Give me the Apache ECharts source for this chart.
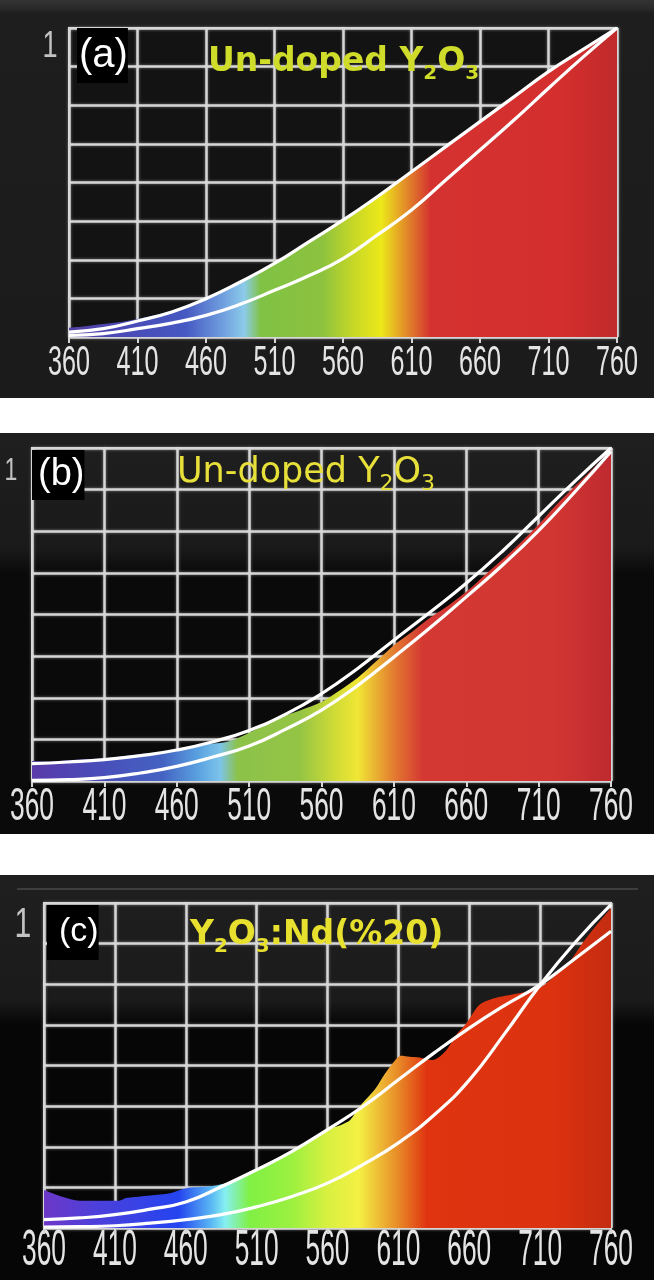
<!DOCTYPE html>
<html><head><meta charset="utf-8">
<script src="https://cdn.jsdelivr.net/npm/echarts@6/dist/echarts.min.js"></script>
<style>
html,body{margin:0;padding:0;background:#fff;width:654px;height:1280px;overflow:hidden}
.p{position:absolute;left:0;width:654px}
#pa{top:0;height:398px;background:linear-gradient(#343434 0,#2a2a2a 8px,#1e1e1e 14px,#1b1b1b 100%)}
#pb{top:433px;height:401px;background:linear-gradient(#1f1f1f 0,#1a1a1a 115px,#0a0a0a 140px,#0a0a0a 100%)}
#pc{top:875px;height:405px;background:linear-gradient(#1f1f1f 0,#1b1b1b 125px,#060606 150px,#060606 100%)}
#lc{position:absolute;top:888px;left:17px;width:621px;height:2px;background:#3e3e3e;z-index:5}
</style></head><body>
<div id="pa" class="p"></div>
<div id="pb" class="p"></div>
<div id="pc" class="p"></div>
<div id="lc"></div>
<script>
// ---------------- data ----------------
const xTicks = [360, 410, 460, 510, 560, 610, 660, 710, 760];
const yTopLabel = [1];
const curveWl = [360, 385, 410, 435, 460, 485, 510, 535, 560, 585, 610, 635, 660, 685, 710, 735, 760];

// panel (a)
const aUpper = [0.016, 0.027, 0.052, 0.081, 0.124, 0.178, 0.238, 0.308, 0.378, 0.454, 0.535, 0.616, 0.697, 0.778, 0.859, 0.93, 1.0];
const aLower = [0.005, 0.011, 0.027, 0.045, 0.07, 0.106, 0.151, 0.198, 0.254, 0.33, 0.411, 0.508, 0.605, 0.703, 0.805, 0.905, 1.0];
const aFillWl = [360, 370, 385, 400, 410, 435, 460, 485, 510, 535, 560, 585, 610, 635, 660, 685, 710, 735, 760];
const aFill = [0.03, 0.034, 0.042, 0.05, 0.058, 0.085, 0.126, 0.178, 0.238, 0.308, 0.378, 0.454, 0.535, 0.616, 0.697, 0.778, 0.859, 0.93, 1.0];

// panel (b)
const bUpper = [0.052, 0.057, 0.064, 0.076, 0.093, 0.118, 0.152, 0.2, 0.262, 0.338, 0.423, 0.507, 0.594, 0.69, 0.795, 0.9, 1.0];
const bLower = [0.002, 0.004, 0.01, 0.024, 0.044, 0.072, 0.105, 0.155, 0.213, 0.287, 0.372, 0.46, 0.553, 0.648, 0.752, 0.868, 0.99];
const bFillWl = [360, 372, 385, 410, 435, 460, 470, 480, 490, 500, 510, 520, 531, 545, 560, 572, 585, 598, 610, 622, 635, 648, 660, 672, 685, 698, 710, 722, 735, 748, 760];
const bFill = [0.06, 0.058, 0.062, 0.068, 0.08, 0.092, 0.105, 0.112, 0.114, 0.125, 0.145, 0.166, 0.19, 0.212, 0.237, 0.27, 0.31, 0.36, 0.408, 0.446, 0.49, 0.528, 0.568, 0.615, 0.665, 0.718, 0.77, 0.828, 0.885, 0.94, 0.995];

// panel (c)
const cUpper = [0.026, 0.031, 0.041, 0.058, 0.08, 0.127, 0.179, 0.236, 0.303, 0.374, 0.456, 0.538, 0.615, 0.685, 0.749, 0.83, 0.913];
const cLower = [0.003, 0.004, 0.007, 0.015, 0.026, 0.041, 0.065, 0.097, 0.138, 0.195, 0.262, 0.347, 0.455, 0.598, 0.748, 0.88, 0.995];
const cFillWl = [360, 373, 385, 400, 413, 418, 435, 449, 461, 470, 480, 490, 500, 510, 520, 535, 550, 560, 570, 576, 582, 588, 594, 599, 606, 612, 618, 625, 634, 644, 650, 658, 667, 675, 681, 690, 696, 705, 712, 720, 730, 740, 750, 760];
const cFill = [0.117, 0.096, 0.084, 0.084, 0.084, 0.092, 0.1, 0.107, 0.123, 0.126, 0.13, 0.14, 0.158, 0.179, 0.2, 0.236, 0.275, 0.303, 0.318, 0.332, 0.37, 0.4, 0.43, 0.465, 0.507, 0.53, 0.527, 0.525, 0.517, 0.548, 0.59, 0.63, 0.686, 0.703, 0.711, 0.718, 0.723, 0.73, 0.745, 0.775, 0.815, 0.877, 0.933, 0.985];

const titleA = 'Un-doped Y{s|2}O{s|3}';
const titleB = 'Un-doped Y{s|2}O{s|3}';
const titleC = 'Y{s|2}O{s|3}:Nd(%20)';

// ---------------- styles ----------------
const specA = [[360,'#5440a6'],[395,'#4a48b4'],[445,'#4658c2'],[472,'#6f9ede'],[488,'#8ccbea'],[500,'#80c244'],[545,'#8cc23e'],[568,'#c8d826'],[588,'#ece81a'],[607,'#e2862a'],[624,'#d43230'],[720,'#d42e2e'],[760,'#c02a2a']];
const specB = [[360,'#5a3aa8'],[400,'#4a4ab8'],[450,'#4462c2'],[475,'#5aa2e0'],[490,'#7cc4ea'],[502,'#8cc24a'],[545,'#94c444'],[570,'#d2dc36'],[585,'#f0e634'],[612,'#e27430'],[630,'#d43832'],[720,'#d23632'],[760,'#bf2a30']];
const specC = [[360,'#6c38c8'],[400,'#4a40dc'],[455,'#2444f0'],[478,'#5ab8f4'],[488,'#86f0f0'],[505,'#80f044'],[535,'#9cf040'],[560,'#d8f040'],[582,'#f4f044'],[610,'#e88a28'],[630,'#e03410'],[720,'#dc3210'],[760,'#c42c10']];

const LBL_FONT = 'Liberation Sans';
const W360 = (function(){const c=document.createElement('canvas').getContext('2d');c.font='100px "'+LBL_FONT+'"';return c.measureText('360').width/100;})();

function grad(spec){
  return new echarts.graphic.LinearGradient(0,0,1,0, spec.map(s=>({offset:(s[0]-360)/400, color:s[1]})));
}
function zip(xs, ys){ return xs.map((x,i)=>[x, ys[i]]); }

function makePanel(id, cfg){
  const ch = echarts.init(document.getElementById(id), null, {renderer:'canvas'});
  const gridColor = '#d6d6d6';
  ch.setOption({
    animation:false,
    backgroundColor:'transparent',
    title:[
      {text:cfg.tag, left:cfg.tagPos[0], top:cfg.tagPos[1], padding:cfg.tagPad, backgroundColor:'#000',
       textStyle:{color:'#fff', fontSize:cfg.tagFs, fontWeight:'normal', fontFamily:'Liberation Sans'}},
      {text:cfg.title, left:cfg.titlePos[0], top:cfg.titlePos[1], padding:0,
       textStyle:{color:cfg.titleColor, fontSize:cfg.titleFs, fontWeight:cfg.titleWeight, fontFamily:'DejaVu Sans', lineHeight:44,
         rich:{s:{fontSize:Math.round(cfg.titleFs*0.62), fontWeight:cfg.titleWeight, color:cfg.titleColor, fontFamily:'DejaVu Sans', verticalAlign:'bottom'}}}}
    ],
    grid:{left:cfg.grid[0], right:cfg.grid[1], top:cfg.grid[2], bottom:cfg.grid[3], show:true, backgroundColor:cfg.plotBg, borderColor:gridColor, borderWidth:2},
    xAxis:{type:'value', min:360, max:760,
      axisLine:{show:true, lineStyle:{color:gridColor, width:2}},
      axisTick:{show:true, customValues:xTicks, length:6, lineStyle:{color:gridColor, width:2}},
      axisLabel:{show:false, customValues:xTicks},
      splitLine:{show:true, lineStyle:{color:gridColor, width:2.5, shadowColor:'rgba(255,255,255,0.45)', shadowBlur:3}}},
    yAxis:{type:'value', min:0, max:1, interval:0.125,
      axisLine:{show:false}, axisTick:{show:false}, axisLabel:{show:false},
      splitLine:{show:true, lineStyle:{color:gridColor, width:2.5, shadowColor:'rgba(255,255,255,0.45)', shadowBlur:3}}},
    series:[
      {type:'line', data:zip(cfg.fillWl, cfg.fill), symbol:'none', smooth:0.3, lineStyle:{width:0}, areaStyle:{color:grad(cfg.spec), opacity:1}, z:2},
      {type:'line', data:zip(curveWl, cfg.upper), symbol:'none', smooth:true, lineStyle:{color:'#ffffff', width:3.2}, z:3},
      {type:'line', data:zip(curveWl, cfg.lower), symbol:'none', smooth:true, lineStyle:{color:'#ffffff', width:3.2}, z:3}
    ]
  });
  // tall, condensed tick labels placed through the axis scale
  const g = [];
  const xFs = cfg.xCap / 0.716;
  const sx = cfg.xW / (W360 * xFs);
  xTicks.forEach(v=>{
    const p = ch.convertToPixel({gridIndex:0}, [v, 0]);
    g.push({type:'text', x:p[0], y:p[1] + cfg.xOff, scaleX:sx, scaleY:1, silent:true,
      style:{text:String(v), x:0, y:0, fill:'#e4e4e4', fontFamily:LBL_FONT, fontSize:xFs,
        align:'center', verticalAlign:'middle', textAlign:'center', textVerticalAlign:'middle'}});
  });
  yTopLabel.forEach(v=>{
    const p = ch.convertToPixel({gridIndex:0}, [360, v]);
    const fs = cfg.oneCap / 0.716;
    g.push({type:'text', x:p[0] + cfg.oneDx, y:p[1] + cfg.oneDy, scaleX:0.72, scaleY:1, silent:true,
      style:{text:String(v), x:0, y:0, fill:'#c2c2c2', fontFamily:LBL_FONT, fontSize:fs,
        align:'center', verticalAlign:'middle', textAlign:'center', textVerticalAlign:'middle'}});
  });
  ch.setOption({graphic:g});
}

makePanel('pa', {tag:'(a)', tagPos:[77,28], tagPad:[8,0,7,2], tagFs:40,
  title:titleA, titlePos:[208,40], titleFs:33, titleWeight:'bold', titleColor:'#d0dc2a',
  grid:[69,37,28,61], plotBg:'#131313', xOff:26, xCap:30, xW:42, oneCap:27, oneDx:-19, oneDy:19,
  spec:specA, fillWl:aFillWl, fill:aFill, upper:aUpper, lower:aLower});
makePanel('pb', {tag:'(b)', tagPos:[32,17], tagPad:[6,0,6,6], tagFs:38,
  title:titleB, titlePos:[177,18], titleFs:35, titleWeight:'normal', titleColor:'#e8e03a',
  grid:[32,43,15,53], plotBg:'transparent', xOff:26, xCap:33, xW:44, oneCap:23, oneDx:-21, oneDy:23,
  spec:specB, fillWl:bFillWl, fill:bFill, upper:bUpper, lower:bLower});
makePanel('pc', {tag:'(c)', tagPos:[47,30], tagPad:[10,0,11,12], tagFs:34,
  title:titleC, titlePos:[190,38], titleFs:33, titleWeight:'bold', titleColor:'#e8e02e',
  grid:[44,43,28,52], plotBg:'transparent', xOff:23, xCap:36, xW:44, oneCap:30, oneDx:-21, oneDy:22,
  spec:specC, fillWl:cFillWl, fill:cFill, upper:cUpper, lower:cLower});
</script>
</body></html>
